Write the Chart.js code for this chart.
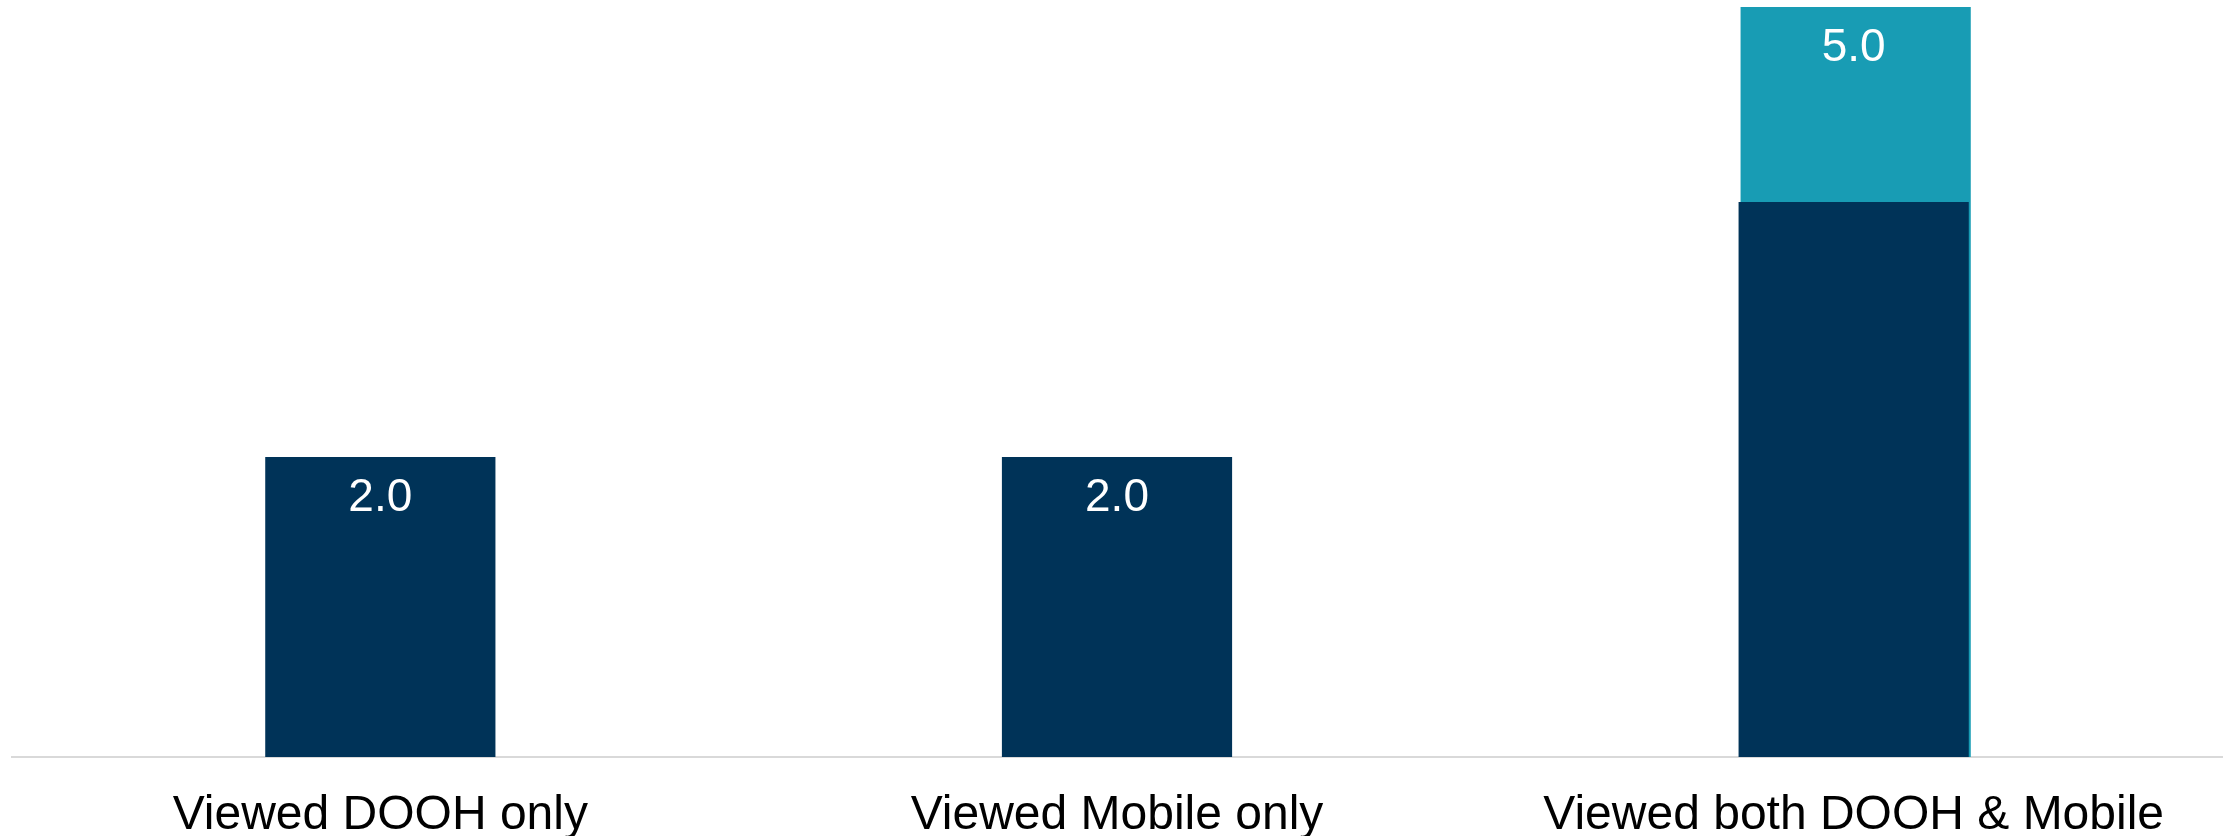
<!DOCTYPE html>
<html lang="en">
<head>
    <meta charset="UTF-8">
    <title>DOOH vs Mobile</title>
    <script src="https://cdn.jsdelivr.net/npm/chart.js"></script>
    <style>
        body { margin: 0; background: #fff; }
        .chart-container { width: 2236px; height: 836px; }
    </style>
</head>
<body>
    <div class="chart-container">
        <canvas id="mainChart" width="2236" height="836"></canvas>
    </div>
    <script>
        // data
        const categories = ["Viewed DOOH only", "Viewed Mobile only", "Viewed both DOOH & Mobile"];
        const navyValues = [2.0, 2.0, 3.7];
        const navyShowLabel = [true, true, false];
        const tealValues = [null, null, 5.0];
        const tealShowLabel = [false, false, true];

        const NAVY = '#003358';
        const TEAL = '#189cb4';
        const FONT = '"Liberation Sans", Arial, sans-serif';

        // the teal bar sits a couple of pixels right of the navy one
        const nudgeBack = {
            id: 'nudgeBack',
            beforeDatasetDraw(chart, args) {
                if (args.index !== 0) return;
                chart.ctx.save();
                chart.ctx.translate(2, 0);
            },
            afterDatasetDraw(chart, args) {
                if (args.index !== 0) return;
                chart.ctx.restore();
            }
        };

        // draw value labels near the top of each bar
        const valueLabels = {
            id: 'valueLabels',
            afterDatasetsDraw(chart) {
                const ctx = chart.ctx;
                ctx.save();
                ctx.fillStyle = '#ffffff';
                ctx.font = '46px ' + FONT;
                ctx.textAlign = 'center';
                ctx.textBaseline = 'middle';
                chart.data.datasets.forEach((ds, i) => {
                    const meta = chart.getDatasetMeta(i);
                    meta.data.forEach((bar, j) => {
                        if (ds.data[j] == null || !ds.showLabel[j]) return;
                        ctx.fillText(ds.data[j].toFixed(1), bar.x, bar.y + 41);
                    });
                });
                ctx.restore();
            }
        };

        const ctx = document.getElementById('mainChart').getContext('2d');
        new Chart(ctx, {
            type: 'bar',
            data: {
                labels: categories,
                datasets: [
                    {
                        label: 'Total',
                        data: tealValues,
                        showLabel: tealShowLabel,
                        backgroundColor: TEAL,
                        order: 1
                    },
                    {
                        label: 'Base',
                        data: navyValues,
                        showLabel: navyShowLabel,
                        backgroundColor: NAVY,
                        order: 0
                    }
                ]
            },
            options: {
                responsive: false,
                devicePixelRatio: 1,
                animation: false,
                grouped: false,
                barPercentage: 0.3125,
                categoryPercentage: 1,
                layout: { padding: { top: 7, left: 12, right: 14, bottom: 0 } },
                plugins: {
                    legend: { display: false },
                    tooltip: { enabled: false }
                },
                scales: {
                    x: {
                        grid: { display: false, drawTicks: false },
                        border: { color: '#d9d9d9', width: 2 },
                        ticks: {
                            color: '#000000',
                            padding: 30,
                            font: { family: FONT, size: 48 }
                        },
                        afterFit(scale) { scale.height = 79; }
                    },
                    y: {
                        display: false,
                        min: 0,
                        max: 5
                    }
                }
            },
            plugins: [nudgeBack, valueLabels]
        });
    </script>
</body>
</html>
